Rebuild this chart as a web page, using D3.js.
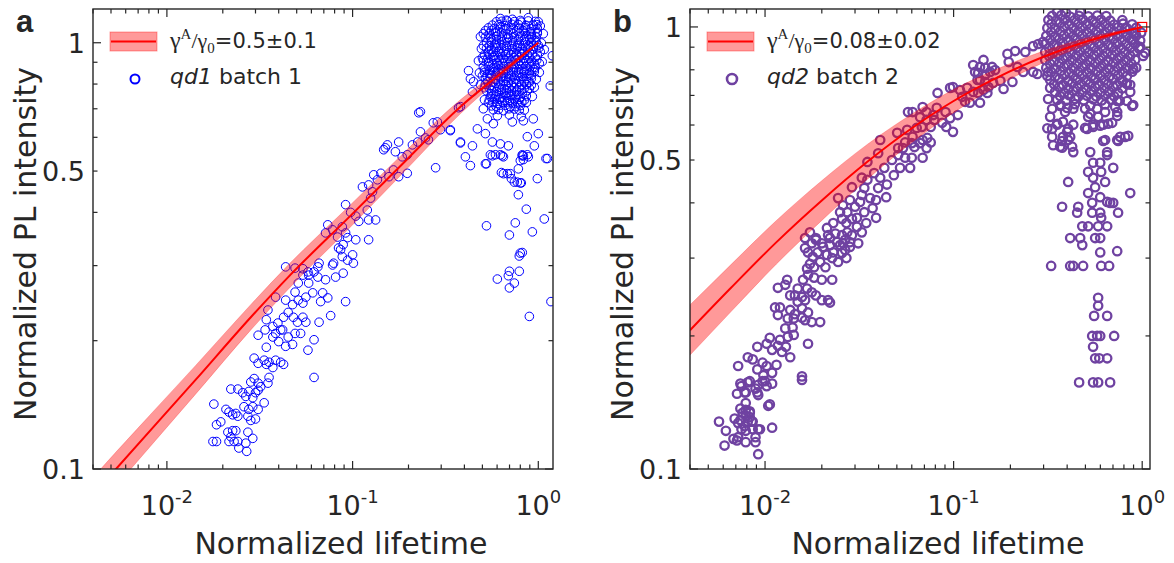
<!DOCTYPE html>
<html><head><meta charset="utf-8">
<script src="https://cdn.jsdelivr.net/npm/d3@7"></script>
<style>
body{margin:0;background:#fff}
text{font-family:"DejaVu Sans",sans-serif;fill:#262626}
</style>
</head><body>
<svg id="c" width="1174" height="563"></svg>
<script>
// ---------- tick labels ----------
const xTickValues = [0.01, 0.1, 1];
const xTickExponents = ["-2", "-1", "0"];
const yTickValues = [0.1, 0.5, 1];
const yTickLabels = ["0.1", "0.5", "1"];

// ---------- fit curve, panel a (γA/γ0 = 0.5 ± 0.1) ----------
const fitLifetimeA  = [0.004, 0.00532, 0.0143, 0.0283, 0.045, 0.0976, 0.181, 0.381, 0.625, 1.0];
const fitIntensityA = [0.0868, 0.100, 0.162, 0.227, 0.282, 0.393, 0.514, 0.708, 0.846, 1.0];
const fitLowA       = [0.0789, 0.0912, 0.150, 0.212, 0.264, 0.370, 0.488, 0.682, 0.829, 1.0];
const fitHighA      = [0.0955, 0.1096, 0.175, 0.243, 0.301, 0.417, 0.542, 0.735, 0.864, 1.0];

// ---------- fit curve, panel b (γA/γ0 = 0.08 ± 0.02) ----------
const fitLifetimeB  = [0.004, 0.0066, 0.0115, 0.02, 0.035, 0.06, 0.1, 0.17, 0.3, 0.53, 1.0];
const fitIntensityB = [0.206, 0.257, 0.326, 0.405, 0.496, 0.590, 0.680, 0.768, 0.856, 0.933, 1.0];
const fitLowB       = [0.181, 0.227, 0.291, 0.365, 0.453, 0.548, 0.640, 0.735, 0.831, 0.918, 1.0];
const fitHighB      = [0.235, 0.290, 0.365, 0.449, 0.543, 0.635, 0.722, 0.803, 0.882, 0.948, 1.0];

// ---------- qd1 batch 1 : [normalized lifetime, normalized PL intensity] ----------
const scatterA = [
[0.0179,0.142],[0.0185,0.127],[0.0195,0.129],[0.0177,0.116],[0.0185,0.116],[0.0208,0.138],[0.0216,0.136],[0.0226,0.134],[0.0235,0.135],[0.0241,0.133],
[0.0221,0.154],[0.0241,0.154],[0.0256,0.151],[0.0266,0.148],[0.0276,0.152],[0.029,0.147],[0.030,0.151],[0.031,0.153],[0.026,0.140],[0.0276,0.138],
[0.029,0.140],[0.0273,0.133],[0.0283,0.130],[0.030,0.131],[0.031,0.138],[0.0334,0.143],[0.0213,0.122],[0.0226,0.123],[0.0235,0.123],[0.0221,0.119],
[0.0216,0.116],[0.023,0.116],[0.0241,0.116],[0.0273,0.122],[0.029,0.118],[0.0266,0.115],[0.0244,0.112],[0.0269,0.110],
[0.0283,0.160],[0.0295,0.163],[0.031,0.159],[0.032,0.156],[0.035,0.159],[0.0355,0.164],[0.0295,0.182],[0.031,0.177],[0.0334,0.180],[0.0343,0.176],
[0.0355,0.178],[0.0372,0.173],[0.0385,0.180],[0.041,0.178],[0.0425,0.176],[0.031,0.206],[0.0343,0.193],[0.0338,0.212],[0.0372,0.204],[0.0385,0.208],
[0.040,0.199],[0.042,0.212],[0.0436,0.194],[0.045,0.204],[0.0475,0.196],[0.049,0.208],[0.0525,0.208],[0.0343,0.224],[0.0372,0.216],[0.0396,0.220],
[0.0425,0.227],[0.045,0.233],[0.048,0.227],[0.0505,0.221],[0.054,0.227],[0.056,0.221],[0.041,0.212],[0.035,0.236],[0.0385,0.253],[0.0436,0.249],
[0.0475,0.243],[0.049,0.260],[0.051,0.249],[0.054,0.245],[0.056,0.253],[0.061,0.259],[0.058,0.273],[0.051,0.273],[0.054,0.285],[0.0575,0.290],
[0.0436,0.298],[0.049,0.296],[0.054,0.295],[0.058,0.285],[0.062,0.290],[0.066,0.304],[0.065,0.282],[0.0715,0.278],[0.069,0.259],[0.0673,0.247],
[0.0735,0.252],[0.0762,0.229],[0.066,0.221],[0.062,0.201],[0.0575,0.190],[0.062,0.164],[0.0917,0.247],[0.089,0.288],[0.081,0.282],[0.078,0.301],
[0.088,0.315],[0.100,0.318],[0.101,0.304],[0.065,0.298],[0.079,0.304],[0.0862,0.327],[0.089,0.336],[0.094,0.309],
[0.0735,0.374],[0.0715,0.358],[0.078,0.364],[0.083,0.350],[0.088,0.370],[0.0917,0.358],[0.094,0.349],[0.104,0.345],[0.122,0.345],[0.084,0.330],
[0.0917,0.417],[0.0976,0.400],[0.104,0.392],[0.108,0.381],[0.120,0.405],[0.122,0.384],[0.133,0.384],[0.125,0.432],[0.113,0.459],[0.122,0.464],
[0.128,0.447],[0.136,0.477],[0.142,0.494],[0.157,0.485],[0.166,0.503],[0.177,0.485],[0.197,0.494],[0.130,0.490],[0.147,0.561],[0.154,0.576],
[0.150,0.567],[0.170,0.555],[0.177,0.585],[0.185,0.540],[0.197,0.546],[0.210,0.576],[0.224,0.585],[0.232,0.618],[0.247,0.598],[0.256,0.592],
[0.280,0.509],[0.272,0.649],[0.286,0.652],[0.297,0.625],[0.336,0.625],[0.381,0.582],[0.227,0.685],[0.232,0.689],[0.372,0.704],
[0.421,0.860],[0.431,0.823],[0.448,0.810],[0.442,0.767],[0.381,0.708],[0.336,0.622],[0.381,0.585],[0.442,0.573],[0.405,0.540],[0.431,0.515],
[0.470,0.628],[0.519,0.612],[0.519,0.520],[0.566,0.585],[0.625,0.579],[0.690,0.573],[0.640,0.543],[0.566,0.543],[0.649,0.493],[0.707,0.493],
[0.831,0.543],[0.873,0.602],[0.800,0.529],[0.781,0.506],[0.820,0.543],[1.0,0.612],[0.940,0.663],[1.12,0.535],[1.16,0.792],[1.19,0.932],
[1.025,0.952],[1.0,1.12],[0.988,1.06],[0.506,0.700],[0.532,0.663],[0.573,0.646],[0.725,0.652],[0.831,0.656],
[0.526,0.372],[0.699,0.354],[0.752,0.378],[0.929,0.360],[0.862,0.407],[1.077,0.386],[0.800,0.321],[0.790,0.316],[0.820,0.322],[0.602,0.279],
[0.699,0.291],[0.690,0.284],[0.699,0.266],[0.743,0.273],[0.790,0.291],[1.17,0.247],[0.895,0.228],[0.781,0.440],[0.800,0.469],[0.771,0.471],
[0.988,0.480],[0.526,0.520],[0.633,0.496],[0.681,0.493],[0.716,0.480],[0.743,0.471],[0.810,0.469],[1.10,0.535],[0.952,0.573],
[0.552,0.546],[0.588,0.546],[0.625,0.546],[0.649,0.540],[0.820,0.546],[0.873,0.546],[0.831,0.532],[0.884,0.540],
[0.625,1.14],[0.725,1.135],[0.884,1.145],[0.595,1.12],[0.681,1.125],[0.81,1.118],[0.963,1.122],
[0.566,1.10],[0.665,1.097],[0.781,1.104],[0.94,1.10],[1.025,1.095],[0.539,1.084],[0.625,1.088],[0.734,1.08],[0.852,1.086],[0.988,1.082],
[0.519,1.067],[0.602,1.064],[0.707,1.07],[0.831,1.066],[0.906,1.062],[0.506,1.05],[0.588,1.054],[0.681,1.047],[0.79,1.052],[0.917,1.049],[1.064,1.05],
[0.488,1.033],[0.552,1.03],[0.64,1.036],[0.743,1.032],[0.862,1.035],[0.975,1.03],[0.56,1.016],[0.633,1.019],[0.725,1.013],[0.841,1.017],[0.963,1.014],
[0.526,1.0],[0.595,0.997],[0.681,1.003],[0.79,0.998],[0.917,1.002],[1.038,0.999],[0.506,0.984],[0.588,0.987],[0.673,0.981],[0.771,0.985],[0.884,0.982],[1.0,0.986],
[0.494,0.968],[0.56,0.965],[0.633,0.971],[0.725,0.966],[0.82,0.969],[0.94,0.967],[1.077,0.964],[0.539,0.952],[0.61,0.955],[0.69,0.949],[0.79,0.953],[0.895,0.95],
[0.513,0.937],[0.58,0.934],[0.665,0.94],[0.762,0.936],[0.873,0.938],[0.988,0.935],[0.50,0.922],[0.573,0.925],[0.649,0.919],[0.743,0.923],[0.841,0.92],[0.963,0.924],
[0.476,0.907],[0.539,0.904],[0.617,0.91],[0.707,0.905],[0.80,0.908],[0.917,0.906],[1.05,0.903],[0.539,0.893],[0.602,0.896],[0.69,0.89],[0.781,0.894],[0.895,0.891],[1.013,0.895],
[0.506,0.878],[0.573,0.875],[0.649,0.881],[0.743,0.877],[0.852,0.879],[0.963,0.876],[0.513,0.864],[0.58,0.867],[0.649,0.861],[0.734,0.865],[0.841,0.862],[0.952,0.866],
[0.482,0.85],[0.546,0.847],[0.61,0.853],[0.69,0.849],[0.781,0.851],[0.895,0.848],[1.013,0.852],[0.50,0.836],[0.56,0.839],[0.633,0.833],[0.716,0.837],[0.82,0.834],[0.917,0.838],
[0.519,0.823],[0.588,0.82],[0.665,0.826],[0.752,0.822],[0.862,0.824],[0.975,0.821],[0.532,0.81],[0.61,0.813],[0.69,0.807],[0.79,0.811],[0.895,0.808],
[0.488,0.797],[0.552,0.794],[0.625,0.8],[0.716,0.796],[0.81,0.798],[0.917,0.795],[0.513,0.784],[0.58,0.787],[0.657,0.781],[0.743,0.785],[0.841,0.782],[0.952,0.786],
[0.526,0.771],[0.595,0.768],[0.673,0.774],[0.762,0.77],[0.873,0.772],[0.56,0.759],[0.633,0.762],[0.716,0.756],[0.82,0.76],
[0.552,0.747],[0.625,0.744],[0.707,0.75],[0.80,0.746],[0.929,0.748],[0.513,0.735],[0.58,0.738],[0.657,0.732],[0.743,0.736],[0.841,0.733],
[0.539,0.723],[0.602,0.72],[0.681,0.726],[0.771,0.722],[0.862,0.724],[0.56,0.711],[0.625,0.714],[0.707,0.708],[0.80,0.712],
[0.573,0.696],[0.649,0.693],[0.743,0.699],[0.841,0.695],[0.602,0.674],[0.699,0.677],[0.81,0.671],
[0.673,1.13],[0.80,1.128],[0.637,1.123],[0.743,1.121],[0.883,1.125],[0.613,1.102],[0.72,1.105],[0.857,1.099],[0.98,1.103],
[0.58,1.081],[0.677,1.078],[0.79,1.083],[0.917,1.079],[0.559,1.069],[0.652,1.072],[0.766,1.067],[0.868,1.071],
[0.545,1.052],[0.633,1.055],[0.733,1.05],[0.851,1.054],[0.988,1.051],[0.519,1.031],[0.594,1.034],[0.69,1.029],[0.8,1.033],[0.917,1.03],
[0.595,1.018],[0.677,1.021],[0.781,1.016],[0.9,1.02],[0.559,1.002],[0.637,1.005],[0.733,1.0],[0.851,1.004],[0.976,1.001],
[0.545,0.983],[0.629,0.986],[0.72,0.981],[0.826,0.985],[0.94,0.982],[0.526,0.97],[0.594,0.973],[0.677,0.968],[0.771,0.972],[0.878,0.969],[1.006,0.972],
[0.573,0.951],[0.649,0.954],[0.738,0.949],[0.841,0.953],[0.545,0.939],[0.621,0.942],[0.712,0.937],[0.815,0.941],[0.929,0.938],
[0.535,0.921],[0.61,0.924],[0.695,0.919],[0.79,0.923],[0.9,0.92],[0.506,0.909],[0.577,0.912],[0.66,0.907],[0.752,0.911],[0.857,0.908],[0.981,0.911],
[0.57,0.892],[0.645,0.895],[0.734,0.89],[0.836,0.894],[0.952,0.891],[0.539,0.88],[0.61,0.883],[0.694,0.878],[0.795,0.882],[0.906,0.879],
[0.545,0.863],[0.613,0.866],[0.69,0.861],[0.786,0.865],[0.895,0.862],[0.513,0.852],[0.577,0.855],[0.649,0.85],[0.734,0.854],[0.836,0.851],[0.952,0.854],
[0.529,0.835],[0.595,0.838],[0.673,0.833],[0.766,0.837],[0.867,0.834],[0.552,0.825],[0.625,0.828],[0.707,0.823],[0.805,0.827],[0.917,0.824],
[0.57,0.809],[0.649,0.812],[0.738,0.807],[0.841,0.811],[0.519,0.799],[0.588,0.802],[0.669,0.797],[0.762,0.801],[0.862,0.798],
[0.545,0.783],[0.617,0.786],[0.699,0.781],[0.79,0.785],[0.895,0.782],[0.56,0.772],[0.633,0.775],[0.716,0.77],[0.815,0.774],
[0.595,0.758],[0.673,0.761],[0.766,0.756],[0.587,0.748],[0.665,0.751],[0.752,0.746],[0.862,0.75],
[0.545,0.734],[0.617,0.737],[0.699,0.732],[0.79,0.736],[0.57,0.724],[0.64,0.727],[0.725,0.722],[0.815,0.726],
[0.592,0.71],[0.665,0.713],[0.752,0.708],[0.61,0.697],[0.695,0.7],[0.79,0.695]
];

// ---------- qd2 batch 2 : [normalized lifetime, normalized PL intensity] ----------
const scatterB = [
[0.0057,0.128],[0.0062,0.122],[0.0061,0.113],[0.0068,0.117],[0.0071,0.116],[0.0069,0.130],[0.0074,0.129],[0.0076,0.134],[0.0079,0.132],[0.0083,0.134],
[0.0081,0.128],[0.0078,0.125],[0.0085,0.128],[0.0075,0.123],[0.0079,0.122],[0.0086,0.123],[0.0079,0.115],[0.0089,0.115],[0.0092,0.123],[0.0109,0.124],
[0.0092,0.108],[0.0104,0.139],[0.0074,0.137],[0.0079,0.141],[0.0083,0.135],[0.0071,0.148],[0.0079,0.149],[0.0091,0.149],[0.0075,0.154],[0.0081,0.157],
[0.0092,0.155],[0.0100,0.158],[0.0109,0.156],[0.0157,0.159],[0.0072,0.127],[0.0079,0.136],[0.0083,0.131],[0.0086,0.128],[0.0089,0.118],[0.0072,0.118],
[0.0106,0.140],[0.0094,0.123],[0.0074,0.156],[0.0078,0.149],[0.0083,0.158],[0.0089,0.152],[0.0092,0.147],[0.0097,0.158],[0.0102,0.154],[0.0098,0.163],
[0.0091,0.168],[0.0086,0.177],[0.0097,0.174],[0.0102,0.171],[0.0109,0.165],[0.0115,0.172],[0.0072,0.171],[0.0081,0.179],[0.0091,0.189],[0.0102,0.192],
[0.0109,0.186],[0.0117,0.190],[0.0123,0.184],[0.0129,0.189],[0.0136,0.179],[0.0157,0.162],[0.0169,0.192],
[0.0106,0.198],[0.0120,0.196],[0.0132,0.199],[0.0128,0.208],[0.0142,0.201],[0.0140,0.209],[0.0142,0.219],[0.0144,0.224],[0.0132,0.219],[0.0157,0.220],
[0.0163,0.217],[0.0177,0.215],[0.0196,0.215],[0.0169,0.226],[0.0157,0.231],[0.0120,0.232],[0.0113,0.232],[0.0117,0.223],[0.0136,0.229],[0.0149,0.239],
[0.0157,0.245],[0.0144,0.247],[0.0136,0.247],[0.0149,0.256],[0.0167,0.256],[0.0177,0.251],[0.0163,0.241],[0.0186,0.247],[0.0200,0.241],[0.0216,0.241],
[0.0221,0.238],[0.0117,0.257],[0.0131,0.268],[0.0128,0.261],[0.0159,0.268],[0.0169,0.275],[0.0182,0.271],[0.0200,0.268],[0.0227,0.268],[0.0167,0.284],
[0.0173,0.291],[0.0182,0.286],[0.0196,0.294],[0.0209,0.286],[0.0179,0.302],[0.0190,0.309],[0.0213,0.305],[0.0227,0.300],[0.0244,0.294],[0.0256,0.308],
[0.0270,0.300],[0.0266,0.313],[0.0163,0.316],[0.0177,0.324],[0.0200,0.324],[0.0221,0.321],[0.0241,0.326],[0.0259,0.324],[0.0282,0.326],[0.0289,0.338],
[0.0216,0.338],[0.0236,0.341],[0.0256,0.338],[0.0173,0.343],[0.0163,0.333],[0.0186,0.333],[0.0273,0.343],
[0.0169,0.309],[0.0186,0.330],[0.0203,0.318],[0.0221,0.333],[0.0230,0.309],[0.0250,0.321],[0.0266,0.330],[0.0282,0.318],[0.0312,0.324],
[0.0213,0.351],[0.0230,0.360],[0.0256,0.368],[0.0270,0.360],[0.0289,0.368],[0.0250,0.381],[0.0273,0.381],[0.0259,0.395],[0.0244,0.410],[0.0282,0.406],
[0.0300,0.392],[0.0319,0.402],[0.0326,0.417],[0.0336,0.432],[0.0289,0.434],[0.0361,0.410],[0.0388,0.370],[0.0372,0.389],[0.0336,0.381],[0.0307,0.370],
[0.0344,0.360],[0.0307,0.353],[0.0326,0.343],[0.0349,0.451],[0.0379,0.467],[0.0408,0.456],[0.0429,0.480],[0.0398,0.432],[0.0439,0.412],[0.0388,0.406],
[0.0326,0.456],[0.0443,0.440],[0.0482,0.462],[0.0520,0.480],[0.0471,0.500],[0.0508,0.513],[0.0553,0.506],[0.0588,0.480],[0.0600,0.506],[0.0539,0.532],
[0.0553,0.548],[0.0600,0.546],[0.0620,0.535],[0.0664,0.546],[0.0685,0.506],[0.0685,0.555],[0.0725,0.561],[0.0756,0.548],[0.0719,0.532],[0.0606,0.564],
[0.0502,0.576],[0.0567,0.585],[0.0637,0.591],[0.0678,0.594],[0.0719,0.616],[0.0790,0.616],[0.0870,0.607],[0.0914,0.594],[0.0992,0.579],[0.0958,0.622],
[0.0756,0.594],[0.0664,0.625],[0.0719,0.642],[0.0780,0.632],[0.0606,0.642],[0.0685,0.659],[0.0814,0.656],[0.0906,0.642],[0.1053,0.632],[0.0573,0.642],
[0.0408,0.555],[0.0398,0.518],[0.0349,0.495],[0.0508,0.532],
[0.0822,0.709],[0.0958,0.728],[0.0992,0.731],[0.108,0.720],[0.118,0.728],[0.127,0.713],[0.111,0.695],[0.115,0.677],[0.122,0.674],[0.138,0.674],
[0.135,0.709],[0.144,0.720],[0.153,0.731],[0.162,0.747],[0.138,0.759],[0.151,0.709],[0.127,0.820],[0.138,0.812],[0.135,0.787],[0.147,0.779],
[0.156,0.791],[0.166,0.799],
[0.193,0.869],[0.212,0.882],[0.240,0.878],[0.264,0.905],[0.281,0.915],[0.298,0.925],[0.196,0.833],[0.218,0.812],[0.234,0.791],[0.264,0.791],
[0.278,0.783],[0.177,0.755],[0.205,0.751],[0.184,0.724],[0.160,0.812],[0.130,0.791],[0.144,0.842],[0.147,0.808],[0.134,0.759],[0.147,0.751],
[0.317,0.791],[0.317,0.687],[0.333,0.653],[0.367,0.663],[0.390,0.642],[0.431,0.653],[0.325,0.626],[0.354,0.604],[0.380,0.610],[0.405,0.588],
[0.333,0.588],[0.415,0.564],[0.376,0.552],[0.425,0.536],[0.367,0.536],[0.431,0.521],[0.498,0.653],[0.530,0.636],[0.577,0.653],[0.636,0.642],
[0.719,0.659],[0.737,0.680],[0.831,0.680],[0.885,0.663],[0.737,0.629],[0.660,0.604],[0.599,0.598],[0.549,0.594],[0.510,0.588],[0.812,0.564],
[0.843,0.567],[0.621,0.552],[0.745,0.552],[0.652,0.521],[0.530,0.521],[1.012,0.860],[0.896,0.804],[0.831,0.743],[0.864,0.713],[1.037,0.874],
[0.918,0.969],[0.896,0.935],[0.976,0.901],[0.864,0.740],[0.896,0.666],
[0.314,0.590],[0.333,0.564],[0.337,0.540],[0.354,0.601],[0.400,0.656],[0.380,0.564],[0.376,0.533],[0.405,0.555],[0.400,0.579],[0.431,0.601],
[0.498,0.591],[0.517,0.626],[0.549,0.601],[0.584,0.626],[0.621,0.601],[0.636,0.555],[0.693,0.607],[0.737,0.642],[0.737,0.555],[0.764,0.564],
[0.549,0.493],[0.599,0.493],[0.652,0.513],[0.702,0.480],[0.517,0.470],[0.549,0.456],[0.606,0.470],[0.636,0.446],[0.405,0.446],[0.864,0.421],
[0.517,0.421],[0.563,0.434],[0.599,0.412],[0.652,0.402],[0.676,0.400],[0.702,0.400],[0.745,0.380],[0.543,0.400],[0.458,0.392],[0.376,0.392],
[0.452,0.380],[0.543,0.380],[0.599,0.380],[0.606,0.370],[0.481,0.354],[0.517,0.354],[0.584,0.354],[0.652,0.354],[0.415,0.333],[0.469,0.333],
[0.481,0.321],[0.563,0.333],[0.599,0.333],[0.599,0.309],[0.737,0.311],[0.329,0.288],[0.415,0.288],[0.431,0.288],[0.486,0.288],[0.606,0.288],
[0.668,0.288],[0.584,0.244],[0.584,0.234],[0.556,0.222],[0.652,0.222],[0.543,0.200],[0.577,0.200],[0.599,0.200],[0.710,0.200],[0.549,0.189],
[0.563,0.178],[0.592,0.178],[0.652,0.178],[0.463,0.157],[0.549,0.157],[0.584,0.157],[0.676,0.157],
[0.354,1.081],[0.394,1.076],[0.470,1.083],
[0.333,1.059],[0.372,1.062],[0.414,1.056],[0.462,1.06],[0.518,1.057],[0.578,1.061],[0.645,1.058],
[0.318,1.037],[0.350,1.034],[0.390,1.04],[0.437,1.036],[0.485,1.039],[0.545,1.035],[0.605,1.038],[0.677,1.033],[0.785,1.036],
[0.330,1.016],[0.366,1.019],[0.410,1.013],[0.458,1.017],[0.510,1.014],[0.570,1.018],[0.637,1.015],[0.710,1.012],[0.792,1.017],[0.885,1.014],
[0.314,0.995],[0.345,0.992],[0.386,0.998],[0.431,0.994],[0.481,0.997],[0.537,0.993],[0.600,0.996],[0.668,0.994],[0.745,0.998],[0.830,0.993],[0.930,0.996],
[0.329,0.974],[0.368,0.977],[0.410,0.971],[0.458,0.975],[0.510,0.972],[0.571,0.976],[0.636,0.973],[0.710,0.977],[0.792,0.972],[0.886,0.975],[0.988,0.971],
[0.310,0.954],[0.345,0.951],[0.385,0.957],[0.431,0.953],[0.481,0.956],[0.536,0.952],[0.599,0.955],[0.668,0.951],[0.745,0.956],[0.831,0.953],[0.929,0.955],
[0.325,0.935],[0.363,0.938],[0.405,0.932],[0.452,0.936],[0.504,0.933],[0.563,0.937],[0.629,0.934],[0.702,0.938],[0.783,0.933],[0.875,0.936],[0.976,0.932],
[0.306,0.915],[0.341,0.912],[0.380,0.918],[0.425,0.914],[0.475,0.917],[0.530,0.913],[0.592,0.916],[0.660,0.912],[0.737,0.917],[0.822,0.914],[0.918,0.916],
[0.321,0.896],[0.358,0.899],[0.400,0.893],[0.447,0.897],[0.498,0.894],[0.556,0.898],[0.621,0.895],[0.693,0.899],[0.773,0.894],[0.864,0.897],[0.964,0.893],
[0.306,0.878],[0.337,0.875],[0.376,0.881],[0.420,0.877],[0.469,0.880],[0.523,0.876],[0.584,0.879],[0.652,0.875],[0.728,0.880],[0.812,0.877],[0.907,0.879],
[0.321,0.860],[0.358,0.863],[0.400,0.857],[0.447,0.861],[0.498,0.858],[0.556,0.862],[0.621,0.859],[0.693,0.863],[0.773,0.858],[0.864,0.861],
[0.306,0.842],[0.341,0.839],[0.380,0.845],[0.425,0.841],[0.475,0.844],[0.530,0.840],[0.592,0.843],[0.660,0.839],[0.737,0.844],[0.822,0.841],[0.918,0.843],
[0.325,0.825],[0.363,0.828],[0.405,0.822],[0.452,0.826],[0.504,0.823],[0.563,0.827],[0.629,0.824],[0.702,0.828],[0.783,0.823],[0.875,0.826],
[0.310,0.808],[0.345,0.805],[0.385,0.811],[0.431,0.807],[0.481,0.810],[0.536,0.806],[0.599,0.809],[0.668,0.805],[0.745,0.810],[0.831,0.807],[0.929,0.809],
[0.329,0.791],[0.368,0.794],[0.410,0.788],[0.458,0.792],[0.510,0.789],[0.571,0.793],[0.636,0.790],[0.710,0.794],[0.792,0.789],[0.886,0.792],
[0.314,0.775],[0.345,0.772],[0.386,0.778],[0.431,0.774],[0.481,0.777],[0.537,0.773],[0.600,0.776],[0.668,0.772],[0.745,0.777],[0.830,0.774],
[0.325,0.759],[0.363,0.762],[0.405,0.756],[0.452,0.760],[0.504,0.757],[0.563,0.761],[0.629,0.758],[0.702,0.762],[0.783,0.757],
[0.341,0.743],[0.380,0.740],[0.425,0.746],[0.475,0.742],[0.530,0.745],[0.592,0.741],[0.660,0.744],[0.737,0.740],[0.822,0.745],
[0.325,0.728],[0.363,0.731],[0.405,0.725],[0.452,0.729],[0.504,0.726],[0.563,0.730],[0.629,0.727],[0.702,0.731],[0.783,0.726],
[0.345,0.713],[0.386,0.710],[0.431,0.716],[0.481,0.712],[0.537,0.715],[0.600,0.711],[0.668,0.714],[0.745,0.710],
[0.367,0.698],[0.410,0.701],[0.458,0.695],[0.510,0.699],[0.571,0.696],[0.636,0.700],[0.710,0.697],
[0.354,0.684],[0.394,0.681],[0.440,0.687],[0.490,0.683],[0.550,0.686],[0.610,0.682],[0.680,0.685],[0.760,0.681],
[0.370,0.666],[0.440,0.669],[0.530,0.664],[0.636,0.668]
];

// ---------- drawing ----------
const svg = d3.select("#c");
const defs = svg.append("defs");

function drawPanel(cfg) {
  const x = d3.scaleLog().domain(cfg.xDomain).range([cfg.left, cfg.right]);
  const y = d3.scaleLog().domain(cfg.yDomain).range([cfg.bottom, cfg.top]);
  const g = svg.append("g");
  const clipId = "clip-" + cfg.name;
  defs.append("clipPath").attr("id", clipId).append("rect")
    .attr("x", cfg.left).attr("y", cfg.top)
    .attr("width", cfg.right - cfg.left).attr("height", cfg.bottom - cfg.top);
  const plot = g.append("g").attr("clip-path", `url(#${clipId})`);

  // scatter
  plot.append("g").selectAll("circle").data(cfg.scatter).join("circle")
    .attr("cx", d => x(d[0])).attr("cy", d => y(d[1]))
    .attr("r", cfg.r).attr("fill", "none")
    .attr("stroke", cfg.color).attr("stroke-width", cfg.sw);

  // fit band + line
  const fit = cfg.fitX.map((v, i) => ({x: v, y: cfg.fitY[i], lo: cfg.fitLo[i], hi: cfg.fitHi[i]}));
  const area = d3.area().x(d => x(d.x)).y0(d => y(d.lo)).y1(d => y(d.hi)).curve(d3.curveMonotoneX);
  const line = d3.line().x(d => x(d.x)).y(d => y(d.y)).curve(d3.curveMonotoneX);
  plot.append("path").datum(fit).attr("d", area)
    .attr("fill", "rgba(255,0,0,0.4)").attr("stroke", "rgba(255,0,0,0.25)").attr("stroke-width", 1);
  plot.append("path").datum(fit).attr("d", line)
    .attr("fill", "none").attr("stroke", "#ff0000").attr("stroke-width", 2);
  if (cfg.endMarker) {
    const last = fit[fit.length - 1];
    g.append("rect").attr("x", x(last.x) - 4.5).attr("y", y(last.y) - 4.5)
      .attr("width", 9).attr("height", 9).attr("fill", "none")
      .attr("stroke", "#ff0000").attr("stroke-width", 1.2);
  }

  // frame
  g.append("rect").attr("x", cfg.left).attr("y", cfg.top)
    .attr("width", cfg.right - cfg.left).attr("height", cfg.bottom - cfg.top)
    .attr("fill", "none").attr("stroke", "#262626").attr("stroke-width", 1.4);

  // ticks
  const isMajor = v => Math.abs(Math.log10(v) - Math.round(Math.log10(v))) < 1e-6;
  const tk = g.append("g").attr("stroke", "#262626").attr("stroke-width", 1.2);
  x.ticks().filter(v => v >= cfg.xDomain[0] && v <= cfg.xDomain[1]).forEach(v => {
    const L = isMajor(v) ? 8 : 4.5, px = x(v);
    tk.append("line").attr("x1", px).attr("x2", px).attr("y1", cfg.bottom).attr("y2", cfg.bottom - L);
    tk.append("line").attr("x1", px).attr("x2", px).attr("y1", cfg.top).attr("y2", cfg.top + L);
  });
  y.ticks().filter(v => v >= cfg.yDomain[0] && v <= cfg.yDomain[1]).forEach(v => {
    const L = isMajor(v) ? 8 : 4.5, py = y(v);
    tk.append("line").attr("y1", py).attr("y2", py).attr("x1", cfg.left).attr("x2", cfg.left + L);
    tk.append("line").attr("y1", py).attr("y2", py).attr("x1", cfg.right).attr("x2", cfg.right - L);
  });

  // x tick labels
  xTickValues.forEach((v, i) => {
    const t = g.append("text").attr("x", x(v)).attr("y", 515)
      .attr("text-anchor", "middle").attr("font-size", 27).text("10");
    t.append("tspan").attr("dy", -12).attr("font-size", 18).text(xTickExponents[i]);
  });
  // y tick labels
  yTickValues.forEach((v, i) => {
    g.append("text").attr("x", cfg.left - 8).attr("y", y(v) + 10)
      .attr("text-anchor", "end").attr("font-size", 27).text(yTickLabels[i]);
  });

  // axis titles
  g.append("text").attr("x", cfg.xTitleX).attr("y", 554).attr("text-anchor", "middle")
    .attr("font-size", 30).text("Normalized lifetime");
  g.append("text").attr("transform", `translate(${cfg.left - 57},${(cfg.top + cfg.bottom) / 2 + 5}) rotate(-90)`)
    .attr("text-anchor", "middle").attr("font-size", 30).text("Normalized PL intensity");

  // panel letter
  g.append("text").attr("x", cfg.left - 77).attr("y", 32)
    .style("font-family", "'Liberation Sans', Arial, sans-serif").style("font-weight", "bold")
    .attr("font-size", 31).text(cfg.name);

  // legend
  const lx = cfg.left + 17;
  g.append("rect").attr("x", lx).attr("y", 32).attr("width", 47).attr("height", 19)
    .attr("fill", "rgba(255,0,0,0.4)").attr("stroke", "rgba(255,0,0,0.35)").attr("stroke-width", 1);
  g.append("line").attr("x1", lx + 1).attr("x2", lx + 46).attr("y1", 41.5).attr("y2", 41.5)
    .attr("stroke", "#ff0000").attr("stroke-width", 2);
  const serif = "'Liberation Serif','Times New Roman',serif";
  const t1 = g.append("text").attr("x", lx + 60).attr("y", 48).attr("font-size", 21);
  t1.append("tspan").style("font-family", serif).attr("font-size", 24).text("γ");
  t1.append("tspan").style("font-family", serif).attr("font-size", 15).attr("dy", -9).text("A");
  t1.append("tspan").style("font-family", serif).attr("font-size", 22).attr("dy", 9).text("/γ");
  t1.append("tspan").style("font-family", serif).attr("font-size", 15).attr("dy", 5).text("0");
  t1.append("tspan").attr("dy", -5).text(cfg.legendValue);
  g.append("circle").attr("cx", lx + 25).attr("cy", 79).attr("r", cfg.legendR)
    .attr("fill", "none").attr("stroke", cfg.color).attr("stroke-width", cfg.legendSw);
  const t2 = g.append("text").attr("x", lx + 60).attr("y", 84).attr("font-size", 22);
  t2.append("tspan").attr("font-style", "italic").text(cfg.legendQd);
  t2.append("tspan").text(" " + cfg.legendBatch);
}

drawPanel({
  name: "a", left: 93, right: 553, top: 9, bottom: 469,
  xDomain: [0.004, 1.2], yDomain: [0.1, 1.2],
  scatter: scatterA, color: "#0000ff", r: 4.3, sw: 1,
  fitX: fitLifetimeA, fitY: fitIntensityA, fitLo: fitLowA, fitHi: fitHighA,
  endMarker: false, xTitleX: 341, legendR: 4.5, legendSw: 2,
  legendValue: "=0.5±0.1", legendQd: "qd1", legendBatch: "batch 1"
});
drawPanel({
  name: "b", left: 690, right: 1150, top: 9, bottom: 469,
  xDomain: [0.004, 1.1], yDomain: [0.1, 1.098],
  scatter: scatterB, color: "#6f42a1", r: 4.2, sw: 2.3,
  fitX: fitLifetimeB, fitY: fitIntensityB, fitLo: fitLowB, fitHi: fitHighB,
  endMarker: true, xTitleX: 938, legendR: 5, legendSw: 2.6,
  legendValue: "=0.08±0.02", legendQd: "qd2", legendBatch: "batch 2"
});
</script>
</body></html>
